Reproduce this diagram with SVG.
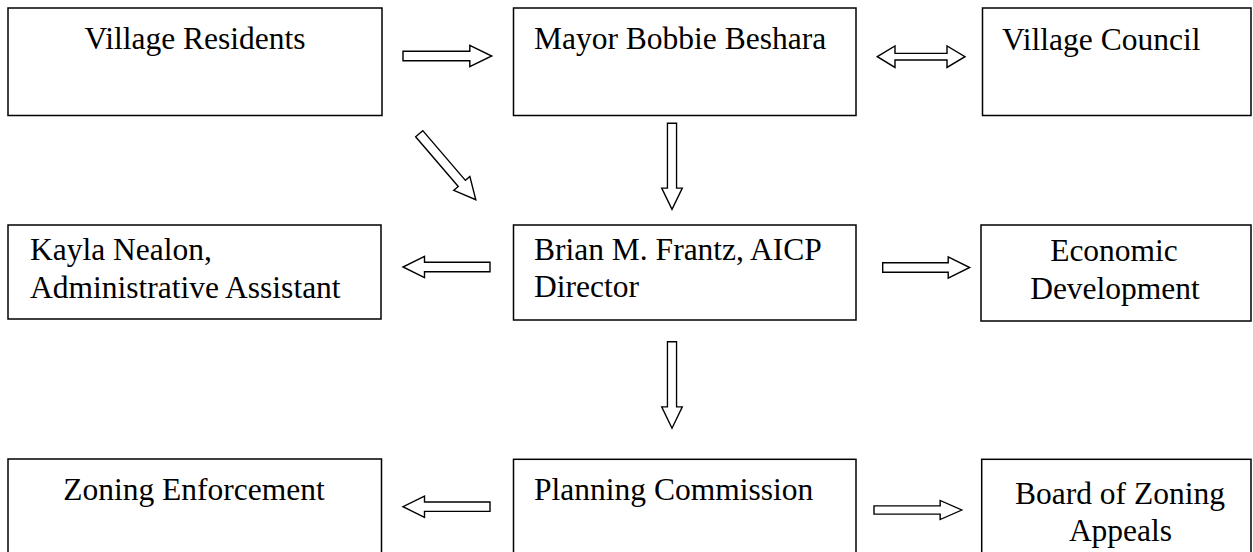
<svg xmlns="http://www.w3.org/2000/svg" xmlns:xlink="http://www.w3.org/1999/xlink" width="1253" height="552" viewBox="0 0 1253 552">
<style>
.box{fill:#fff;stroke:#000;stroke-width:1.5}
text{font-family:'Liberation Serif','Times New Roman','DejaVu Serif',serif;font-size:31.5px;fill:#000}
.mid{text-anchor:middle}
.arr{fill:#fff;stroke:#000;stroke-width:1.4;stroke-linejoin:miter}
</style>
<defs>
<path id="blk" d="M0,-4.7 H65.5 V-10.6 L87,0 L65.5,10.6 V4.7 H0 Z"/>
</defs>
<rect width="1253" height="552" fill="#fff"/>
<g id="village-residents">
<rect class="box" x="8" y="8" width="374" height="107.5"/>
<text class="mid" x="195" y="49" font-family="Liberation Serif, serif">Village Residents</text>
</g>
<g id="mayor">
<rect class="box" x="513.5" y="8" width="342.5" height="107.5"/>
<text x="534" y="49" font-family="Liberation Serif, serif">Mayor Bobbie Beshara</text>
</g>
<g id="village-council">
<rect class="box" x="982.5" y="8" width="268.5" height="107.5"/>
<text x="1002" y="50" font-family="Liberation Serif, serif">Village Council</text>
</g>
<g id="kayla">
<rect class="box" x="8" y="225" width="373" height="94"/>
<text x="30" y="260" font-family="Liberation Serif, serif">Kayla Nealon,</text>
<text x="30" y="297.5" font-family="Liberation Serif, serif">Administrative Assistant</text>
</g>
<g id="brian">
<rect class="box" x="513.5" y="225" width="342.5" height="95"/>
<text x="534" y="259.5" font-family="Liberation Serif, serif">Brian M. Frantz, AICP</text>
<text x="534" y="297" font-family="Liberation Serif, serif">Director</text>
</g>
<g id="economic">
<rect class="box" x="981" y="225" width="270" height="96"/>
<text class="mid" x="1114" y="260.5" font-family="Liberation Serif, serif">Economic</text>
<text class="mid" x="1115" y="298.5" font-family="Liberation Serif, serif">Development</text>
</g>
<g id="zoning-enforcement">
<rect class="box" x="8" y="459" width="373.5" height="110"/>
<text class="mid" x="194" y="500" font-family="Liberation Serif, serif">Zoning Enforcement</text>
</g>
<g id="planning-commission">
<rect class="box" x="513.5" y="459.3" width="342.5" height="110"/>
<text x="534" y="500" font-family="Liberation Serif, serif">Planning Commission</text>
</g>
<g id="bza">
<rect class="box" x="981.7" y="459.3" width="269.3" height="110"/>
<text class="mid" x="1120" y="504" font-family="Liberation Serif, serif">Board of Zoning</text>
<text class="mid" x="1120.5" y="540.5" font-family="Liberation Serif, serif">Appeals</text>
</g>
<g id="connectors">
<use xlink:href="#blk" class="arr" transform="translate(403,56) scale(1.02,1)"/>
<path class="arr" d="M877.3,56.7 L895,46 V53.4 H947 V46 L965,56.7 L947,67.4 V60 H895 V67.4 Z"/>
<use xlink:href="#blk" class="arr" transform="translate(419.2,133.7) rotate(49.4)"/>
<use xlink:href="#blk" class="arr" transform="translate(672,123.3) rotate(90) scale(0.99,0.97)"/>
<use xlink:href="#blk" class="arr" transform="translate(490,267) rotate(180)"/>
<use xlink:href="#blk" class="arr" transform="translate(882.7,267.5)"/>
<use xlink:href="#blk" class="arr" transform="translate(672,341.7) rotate(90) scale(0.995,0.97)"/>
<use xlink:href="#blk" class="arr" transform="translate(490,506.7) rotate(180)"/>
<use xlink:href="#blk" class="arr" transform="translate(874,510) scale(1.01,0.9)"/>
</g>
</svg>
